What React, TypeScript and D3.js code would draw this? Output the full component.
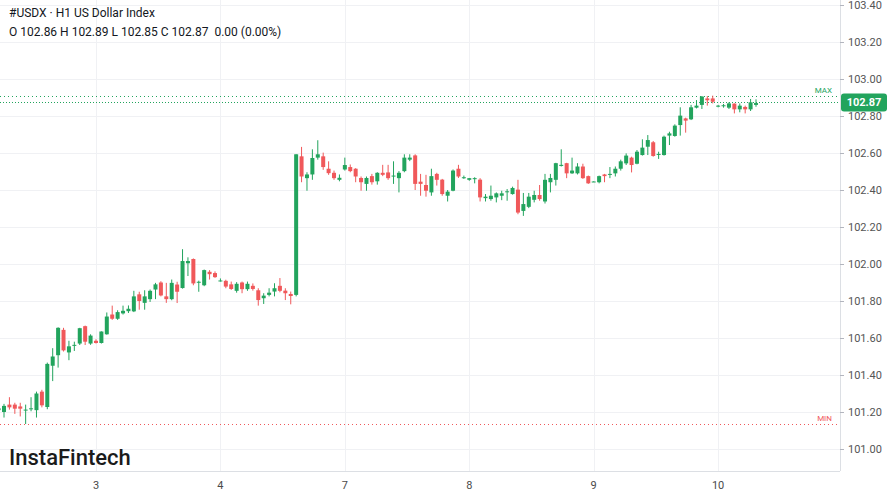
import React from 'react';
import * as d3 from 'd3';

// hourly candles, index 0 = partly cut-off candle at the left edge
const opens = [
  101.21, 101.20, 101.24, 101.24, 101.23, 101.21, 101.215, 101.21, 101.31, 101.227,
  101.45, 101.507, 101.644, 101.522, 101.56, 101.57, 101.664, 101.57, 101.585, 101.573,
  101.62, 101.727, 101.704, 101.733, 101.745, 101.744, 101.836, 101.79, 101.81, 101.862,
  101.90, 101.825, 101.81, 101.889, 101.87, 102.004, 102.027, 101.90, 101.885, 101.958,
  101.951, 101.908, 101.909, 101.89, 101.855, 101.90, 101.864, 101.882, 101.858, 101.815,
  101.833, 101.851, 101.882, 101.856, 101.838, 101.833, 102.582, 102.464, 102.484, 102.575,
  102.582, 102.515, 102.493, 102.455, 102.511, 102.524, 102.515, 102.465, 102.433, 102.475,
  102.447, 102.493, 102.495, 102.473, 102.464, 102.502, 102.564, 102.587, 102.445, 102.427,
  102.387, 102.487, 102.456, 102.369, 102.396, 102.515, 102.464, 102.455, 102.462, 102.456,
  102.356, 102.351, 102.36, 102.369, 102.39, 102.378, 102.402, 102.287, 102.309, 102.347,
  102.373, 102.338, 102.442, 102.455, 102.53, 102.545, 102.49, 102.49, 102.527, 102.475,
  102.444, 102.442, 102.484, 102.482, 102.49, 102.515, 102.544, 102.575, 102.542, 102.589,
  102.634, 102.658, 102.591, 102.589, 102.694, 102.692, 102.751, 102.787, 102.782, 102.845,
  102.86, 102.895, 102.895, 102.854, 102.855, 102.845, 102.867, 102.836, 102.849, 102.836,
  102.86,
];
const highs = [
  101.23, 101.244, 101.28, 101.25, 101.25, 101.24, 101.28, 101.31, 101.32, 101.467,
  101.545, 101.658, 101.655, 101.585, 101.58, 101.655, 101.667, 101.62, 101.593, 101.636,
  101.738, 101.775, 101.75, 101.775, 101.776, 101.855, 101.85, 101.858, 101.862, 101.898,
  101.907, 101.898, 101.916, 101.904, 102.08, 102.036, 102.03, 101.91, 101.97, 101.967,
  101.96, 101.922, 101.915, 101.905, 101.902, 101.905, 101.905, 101.895, 101.869, 101.842,
  101.869, 101.896, 101.924, 101.869, 101.851, 102.593, 102.633, 102.496, 102.62, 102.669,
  102.602, 102.555, 102.505, 102.484, 102.575, 102.538, 102.518, 102.473, 102.473, 102.487,
  102.496, 102.536, 102.536, 102.555, 102.502, 102.593, 102.593, 102.593, 102.487, 102.482,
  102.515, 102.493, 102.46, 102.40, 102.511, 102.536, 102.478, 102.465, 102.469, 102.464,
  102.378, 102.424, 102.387, 102.396, 102.405, 102.418, 102.455, 102.384, 102.384, 102.396,
  102.427, 102.487, 102.487, 102.547, 102.62, 102.547, 102.575, 102.545, 102.542, 102.478,
  102.447, 102.478, 102.487, 102.524, 102.527, 102.564, 102.598, 102.58, 102.616, 102.674,
  102.697, 102.665, 102.607, 102.694, 102.715, 102.755, 102.847, 102.791, 102.86, 102.886,
  102.908, 102.908, 102.91, 102.86, 102.865, 102.874, 102.868, 102.868, 102.856, 102.892,
  102.89,
];
const lows = [
  101.20, 101.17, 101.213, 101.19, 101.176, 101.135, 101.204, 101.17, 101.225, 101.215,
  101.367, 101.44, 101.527, 101.48, 101.53, 101.562, 101.562, 101.563, 101.57, 101.57,
  101.618, 101.698, 101.698, 101.727, 101.735, 101.74, 101.753, 101.753, 101.795, 101.81,
  101.825, 101.79, 101.804, 101.789, 101.867, 101.935, 101.885, 101.85, 101.88, 101.916,
  101.925, 101.905, 101.869, 101.86, 101.845, 101.842, 101.855, 101.856, 101.775, 101.784,
  101.825, 101.825, 101.847, 101.805, 101.782, 101.825, 102.442, 102.396, 102.455, 102.564,
  102.509, 102.482, 102.455, 102.447, 102.505, 102.496, 102.442, 102.396, 102.396, 102.429,
  102.429, 102.475, 102.455, 102.433, 102.387, 102.496, 102.556, 102.40, 102.369, 102.364,
  102.369, 102.424, 102.369, 102.338, 102.393, 102.465, 102.46, 102.45, 102.436, 102.338,
  102.338, 102.342, 102.333, 102.345, 102.342, 102.375, 102.269, 102.26, 102.302, 102.333,
  102.342, 102.327, 102.387, 102.424, 102.527, 102.464, 102.487, 102.484, 102.46, 102.433,
  102.443, 102.436, 102.442, 102.464, 102.473, 102.505, 102.535, 102.495, 102.539, 102.586,
  102.589, 102.58, 102.568, 102.586, 102.643, 102.688, 102.694, 102.71, 102.778, 102.841,
  102.838, 102.856, 102.868, 102.847, 102.845, 102.838, 102.814, 102.82, 102.814, 102.827,
  102.85,
];
const closes = [
  101.22, 101.233, 101.225, 101.218, 101.218, 101.213, 101.22, 101.30, 101.236, 101.46,
  101.50, 101.655, 101.533, 101.555, 101.563, 101.653, 101.58, 101.613, 101.573, 101.635,
  101.716, 101.704, 101.74, 101.747, 101.758, 101.825, 101.80, 101.825, 101.855, 101.89,
  101.83, 101.81, 101.898, 101.85, 102.016, 102.016, 101.895, 101.904, 101.967, 101.945,
  101.929, 101.911, 101.878, 101.865, 101.893, 101.864, 101.893, 101.865, 101.805, 101.829,
  101.845, 101.869, 101.855, 101.842, 101.827, 102.593, 102.473, 102.484, 102.573, 102.593,
  102.524, 102.491, 102.464, 102.466, 102.535, 102.502, 102.473, 102.442, 102.465, 102.442,
  102.493, 102.482, 102.464, 102.478, 102.493, 102.575, 102.575, 102.433, 102.433, 102.396,
  102.475, 102.455, 102.378, 102.391, 102.505, 102.473, 102.469, 102.464, 102.464, 102.36,
  102.364, 102.369, 102.382, 102.382, 102.393, 102.411, 102.278, 102.324, 102.364, 102.373,
  102.351, 102.455, 102.465, 102.545, 102.536, 102.49, 102.505, 102.527, 102.464, 102.436,
  102.446, 102.475, 102.475, 102.487, 102.515, 102.555, 102.586, 102.535, 102.607, 102.629,
  102.67, 102.584, 102.595, 102.688, 102.706, 102.748, 102.802, 102.775, 102.847, 102.856,
  102.905, 102.885, 102.877, 102.856, 102.858, 102.868, 102.836, 102.856, 102.836, 102.874,
  102.87,
];

// first candle index of each day and its label
const dayStarts = [18, 41, 64, 87, 110, 133];
const dayLabels = ['3', '4', '7', '8', '9', '10'];

const priceTicks = [101.0, 101.2, 101.4, 101.6, 101.8, 102.0, 102.2, 102.4, 102.6, 102.8, 103.0, 103.2, 103.4];

const title = '#USDX \u00b7 H1 US Dollar Index';
const ohlcLine = 'O 102.86 H 102.89 L 102.85 C 102.87  0.00 (0.00%)';

const UP = '#22a45d';
const DOWN = '#f0585a';
const GRID = '#f0f1f4';
const FONT = 'Roboto, "Noto Sans", sans-serif';

function App() {
    const width = 888;
    const height = 494;
    const plotRight = 840;
    const plotBottom = 471;

    const candles = opens.map((o, i) => ({ i, o, h: highs[i], l: lows[i], c: closes[i] }));

    const x = d3.scaleLinear().domain([0, candles.length - 1]).range([-1.4, 756]);
    const y = d3.scaleLinear().domain([101, 103.4]).range([449, 5]);

    const bodyW = 4;
    const maxV = d3.max(highs) as number;
    const minV = d3.min(lows) as number;
    const last = closes[closes.length - 1];
    const lastY = Math.round(y(last)) - 0.5;

    return (
        <svg width={width} height={height} style={{ position: 'absolute', left: 0, top: 0, background: '#fff' }}
            fontFamily={FONT}>
            <rect x={0} y={0} width={width} height={height} fill="#fff" />
            {/* grid */}
            <g>
                {priceTicks.map(t => (
                    <line key={t} x1={0} x2={plotRight} y1={Math.round(y(t)) + 0.5} y2={Math.round(y(t)) + 0.5}
                        stroke={GRID} />
                ))}
                {dayStarts.map(d => (
                    <line key={d} x1={Math.round(x(d)) + 0.5} x2={Math.round(x(d)) + 0.5} y1={0} y2={plotBottom}
                        stroke={GRID} />
                ))}
            </g>

            {/* max / min / last price lines */}
            <line x1={0} x2={plotRight} y1={Math.round(y(maxV)) + 0.5} y2={Math.round(y(maxV)) + 0.5}
                stroke={UP} strokeDasharray="1 3" />
            <text x={832} y={y(maxV) - 3} fontSize={8} fill={UP} textAnchor="end">MAX</text>
            <line x1={0} x2={plotRight} y1={Math.round(y(minV)) + 0.5} y2={Math.round(y(minV)) + 0.5}
                stroke={DOWN} strokeDasharray="1 3" />
            <text x={832} y={y(minV) - 3} fontSize={8} fill={DOWN} textAnchor="end">MIN</text>
            <line x1={0} x2={plotRight} y1={lastY} y2={lastY}
                stroke={UP} strokeDasharray="1 2" />

            {/* candles */}
            <g>
                {candles.map(d => {
                    const col = d.c >= d.o ? UP : DOWN;
                    const top = y(Math.max(d.o, d.c));
                    const bot = y(Math.min(d.o, d.c));
                    return (
                        <g key={d.i}>
                            <line x1={x(d.i)} x2={x(d.i)} y1={y(d.h)} y2={y(d.l)} stroke={col} strokeWidth={1} />
                            <rect x={x(d.i) - bodyW / 2} y={top} width={bodyW} height={Math.max(1, bot - top)} fill={col} />
                        </g>
                    );
                })}
            </g>

            {/* axes frame */}
            <line x1={plotRight + 0.5} x2={plotRight + 0.5} y1={0} y2={plotBottom} stroke="#dcdfe4" />
            <line x1={0} x2={plotRight} y1={plotBottom + 0.5} y2={plotBottom + 0.5} stroke="#dcdfe4" />

            {/* right price axis */}
            <g>
                {priceTicks.map(t => (
                    <g key={t} transform={`translate(${plotRight},${Math.round(y(t)) + 0.5})`}>
                        <line x1={0} x2={4} stroke="#b2b5be" />
                        <text x={8} dy="0.35em" fontSize={11} fill="#555">{t.toFixed(2)}</text>
                    </g>
                ))}
            </g>
            <rect x={841} y={lastY - 9} width={46} height={18} rx={3} fill={UP} />
            <text x={864} y={lastY} dy="0.35em" fontSize={11} fontWeight={700} fill="#fff" textAnchor="middle">
                {last.toFixed(2)}
            </text>

            {/* bottom time axis */}
            <g>
                {dayStarts.map((d, k) => (
                    <text key={d} x={x(d)} y={489} fontSize={11} fill="#4a4a4a" textAnchor="middle">{dayLabels[k]}</text>
                ))}
            </g>

            {/* header */}
            <text x={9} y={17} fontSize={12} fill="#131722">{title}</text>
            <text x={9} y={36} fontSize={12} fill="#131722" style={{ whiteSpace: 'pre' }}>{ohlcLine}</text>

            {/* watermark */}
            <text x={9} y={465} fontSize={22} fontWeight={500} fill="#1b1b1b">InstaFintech</text>
        </svg>
    );
}

export default App;
